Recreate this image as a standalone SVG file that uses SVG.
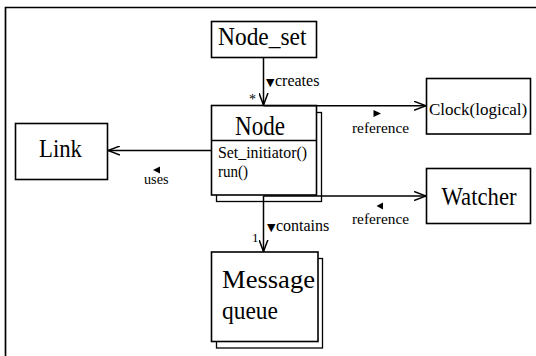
<svg xmlns="http://www.w3.org/2000/svg" width="536" height="356" viewBox="0 0 536 356">
  <defs>
    <marker id="open" viewBox="0 0 12 10" refX="12" refY="5" markerWidth="12" markerHeight="10" markerUnits="userSpaceOnUse" orient="auto">
      <path d="M0,0.5 L12,5 L0,9.5" fill="none" stroke="#000" stroke-width="1.5"/>
    </marker>
  </defs>
  <style>
    .box { fill: #fff; stroke: #000; stroke-width: 1.6; }
    .shadow { fill: #fff; stroke: #000; stroke-width: 1.3; }
    .sep { stroke: #000; stroke-width: 1.3; }
    .frame { fill: none; stroke: #000; stroke-width: 1.7; }
    .edge { fill: none; stroke: #000; stroke-width: 1.5; marker-end: url(#open); }
    .dir { fill: #000; }
    text { font-family: 'Liberation Serif', 'DejaVu Serif', serif; fill: #000; }
    .mid { font-size: 17px; }
    .lbl { font-size: 15.5px; }
    .tri { font-family: 'DejaVu Sans', sans-serif; font-size: 11px; }
  </style>

  <rect width="536" height="356" fill="#fff"/>

  <!-- outer frame: left and top sides only -->
  <path class="frame" d="M5.5,356 V7.5 H536"/>

  <g id="node-set">
    <rect class="box" x="211.5" y="21.5" width="105" height="36"/>
    <text x="218" y="45" font-size="24.5" textLength="88.5" lengthAdjust="spacingAndGlyphs">Node_set</text>
  </g>

  <g id="node">
    <rect class="shadow" x="216.5" y="112.5" width="105" height="89"/>
    <rect class="box" x="211.5" y="105.5" width="105" height="89.5"/>
    <line class="sep" x1="211.5" y1="140.5" x2="316.5" y2="140.5"/>
    <text x="235" y="135" font-size="27" textLength="50" lengthAdjust="spacingAndGlyphs">Node</text>
    <text class="mid" x="218" y="158" textLength="89" lengthAdjust="spacingAndGlyphs">Set_initiator()</text>
    <text class="mid" x="218" y="177" textLength="30" lengthAdjust="spacingAndGlyphs">run()</text>
  </g>

  <g id="link">
    <rect class="box" x="15.5" y="123.5" width="92" height="56"/>
    <text x="39" y="157" font-size="26" textLength="43" lengthAdjust="spacingAndGlyphs">Link</text>
  </g>

  <g id="clock">
    <rect class="box" x="426.5" y="78.5" width="104" height="55.5"/>
    <text x="429" y="115" font-size="17">Clock(logical)</text>
  </g>

  <g id="watcher">
    <rect class="box" x="426.5" y="168.5" width="104" height="55"/>
    <text x="441.5" y="205" font-size="25" textLength="75" lengthAdjust="spacingAndGlyphs">Watcher</text>
  </g>

  <g id="message-queue">
    <rect class="shadow" x="216.5" y="258.5" width="106" height="89.5"/>
    <rect class="box" x="211.5" y="252" width="106.5" height="89.5"/>
    <text x="222" y="288" font-size="25.5" textLength="93" lengthAdjust="spacingAndGlyphs">Message</text>
    <text x="222" y="319" font-size="25.5" textLength="56" lengthAdjust="spacingAndGlyphs">queue</text>
  </g>

  <g id="connectors">
    <!-- Node_set creates Node -->
    <line class="edge" x1="263.5" y1="57.5" x2="263.5" y2="105"/>
    <!-- Node references Clock -->
    <line class="edge" x1="263.5" y1="105.8" x2="426" y2="105.8"/>
    <!-- Node references Watcher -->
    <line class="edge" x1="263.5" y1="196" x2="426" y2="196" stroke-width="1.7"/>
    <!-- Node uses Link -->
    <line class="edge" x1="211.5" y1="150.5" x2="108" y2="150.5"/>
    <!-- Node contains Message queue -->
    <line class="edge" x1="263.5" y1="196" x2="263.5" y2="251.5"/>

    <text x="266" y="86" font-size="16"><tspan class="tri">▼</tspan><tspan dx="0.5">creates</tspan></text>
    <text x="249" y="104" font-size="14">*</text>

    <!-- reading-direction triangles above the association names -->
    <polygon class="dir" points="373.5,110 381,113.5 373.5,117"/>
    <text class="lbl" x="352" y="133" textLength="57" lengthAdjust="spacingAndGlyphs">reference</text>

    <polygon class="dir" points="383,202.5 376.5,206 383,209.5"/>
    <text class="lbl" x="352" y="224" textLength="57" lengthAdjust="spacingAndGlyphs">reference</text>

    <polygon class="dir" points="160,166.5 153,170 160,173.5"/>
    <text class="lbl" x="144" y="184" textLength="24.5" lengthAdjust="spacingAndGlyphs">uses</text>

    <text x="267" y="231" font-size="16"><tspan class="tri">▼</tspan><tspan dx="0.5">contains</tspan></text>
    <text x="252" y="242" font-size="13">1</text>
  </g>
</svg>
